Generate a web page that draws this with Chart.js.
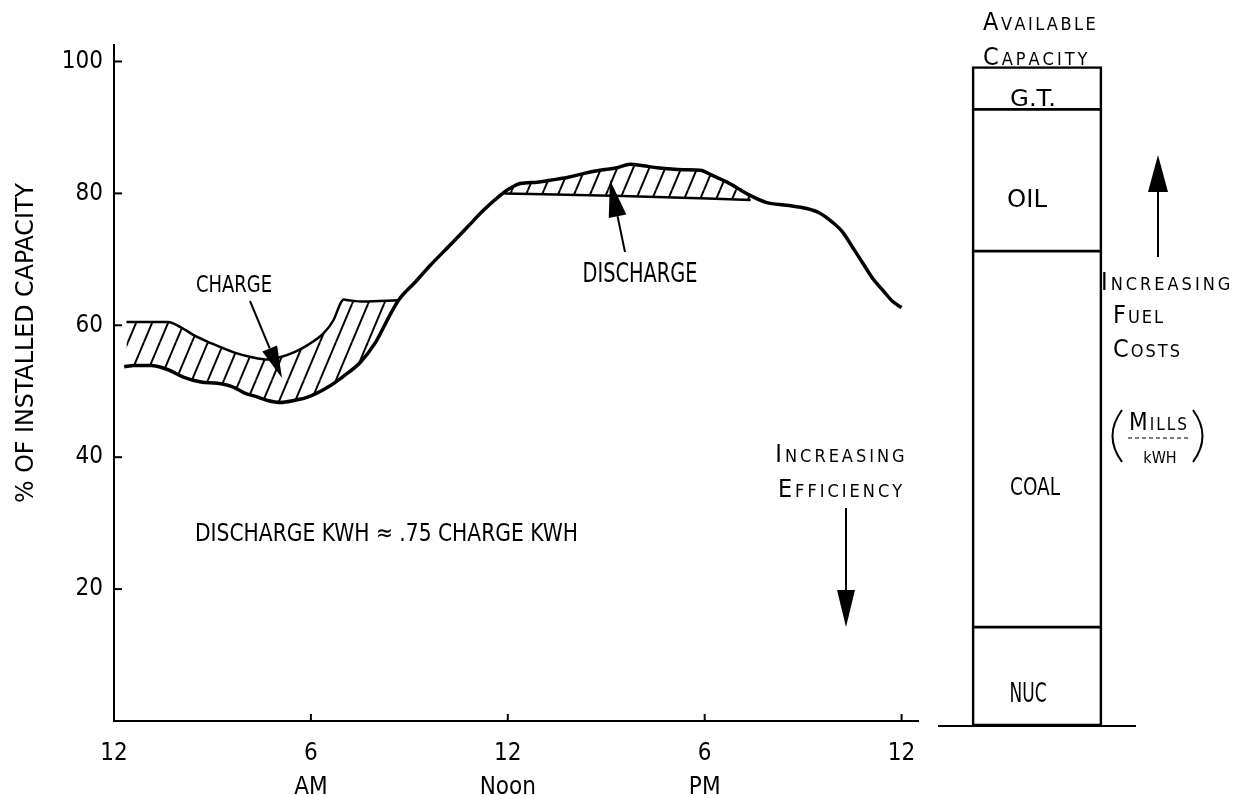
<!DOCTYPE html>
<html>
<head>
<meta charset="utf-8">
<script src="https://cdn.jsdelivr.net/npm/chart.js@4.4.0/dist/chart.umd.min.js"></script>
<style>
  html, body { margin: 0; padding: 0; background: #fff; }
  #wrap { position: relative; width: 1242px; height: 795px; }
  #load { position: absolute; left: 0; top: 0; }
  #cap { position: absolute; left: 935px; top: 0; }
</style>
</head>
<body>
<div id="wrap">
  <canvas id="load" width="935" height="795"></canvas>
  <canvas id="cap" width="307" height="795"></canvas>
</div>
<script>
const FONT = '"Liberation Sans Narrow", "DejaVu Sans Condensed", "Arial Narrow", sans-serif'

// daily load, % of installed capacity against hour of day
const loadHours = [0.31,0.61,1.13,1.63,2.13,2.65,3.16,3.65,3.95,4.38,4.68,5.08,5.48,5.9,6.51,7.0,7.51,7.97,8.36,8.67,
    9.19,9.64,10.25,10.77,11.25,11.77,12.08,12.38,12.9,13.29,13.81,14.3,14.81,15.33,15.73,16.12,16.55,17.34,17.86,18.25,
    18.68,19.07,19.38,19.89,20.5,21.11,21.51,21.9,22.21,22.51,22.82,23.12,23.43,23.73,24.0]
const loadPct = [53.7,53.9,53.9,53.3,52.1,51.4,51.2,50.6,49.8,49.1,48.6,48.3,48.6,49.1,50.6,52.3,54.4,57.4,61.1,63.8,
    66.6,69.1,72.2,74.9,77.4,79.7,80.8,81.5,81.7,82.0,82.4,83.0,83.5,83.9,84.4,84.2,83.9,83.6,83.5,82.7,
    81.7,80.6,79.7,78.6,78.2,77.7,77.0,75.6,74.1,71.8,69.4,67.1,65.3,63.6,62.7]

// load plus storage charging (early morning)
const chargeHours = [0.38,1.64,2.04,2.43,2.95,3.65,4.17,4.68,5.08,5.48,5.9,6.39,6.69,6.9,7.0,7.15,7.6,8.67]
const chargePct = [60.5,60.5,59.7,58.5,57.3,55.9,55.2,54.8,55.2,55.9,57.0,58.8,60.8,63.3,63.9,63.8,63.6,63.8]

// load left for generation while storage discharges (afternoon peak)
const dischargeHours = [11.9, 15.5, 19.4]
const dischargePct = [80.0, 79.6, 79.0]

const xTickHours = [0, 6, 12, 18, 24]
const xTickTop = ['12', '6', '12', '6', '12']
const xTickSub = ['', 'AM', 'Noon', 'PM', '']
const yTickVals = [20, 40, 60, 80, 100]

// available capacity stack, bottom to top
const capLabels = ['NUC', 'COAL', 'OIL', 'G.T.']
const capValues = [15, 57, 21.5, 6.5]

Chart.defaults.font.family = FONT
Chart.defaults.color = '#000'

function toPoints(xs, ys){
    return xs.map((x, i) => ({x: x, y: ys[i]}))
}

function makeHatch(){
    let c = document.createElement('canvas')
    c.width = 16
    c.height = 38
    let g = c.getContext('2d')
    g.strokeStyle = '#000'
    g.lineWidth = 2
    for (const dx of [-16, 0, 16]) {
        g.beginPath()
        g.moveTo(dx, 38)
        g.lineTo(dx + 16, 0)
        g.stroke()
    }
    return g.createPattern(c, 'repeat')
}

function arrow(ctx, x1, y1, x2, y2, len, w, lw){
    let a = Math.atan2(y2 - y1, x2 - x1)
    let bx = x2 - Math.cos(a) * len, by = y2 - Math.sin(a) * len
    ctx.strokeStyle = '#000'
    ctx.fillStyle = '#000'
    ctx.lineWidth = lw || 2
    ctx.beginPath()
    ctx.moveTo(x1, y1)
    ctx.lineTo(bx, by)
    ctx.stroke()
    ctx.beginPath()
    ctx.moveTo(x2, y2)
    ctx.lineTo(bx - Math.sin(a) * w / 2, by + Math.cos(a) * w / 2)
    ctx.lineTo(bx + Math.sin(a) * w / 2, by - Math.cos(a) * w / 2)
    ctx.closePath()
    ctx.fill()
}

// plain lettering, squeezed sideways to the given width when one is set
function text(ctx, s, x, y, size, align, width){
    ctx.font = size + 'px ' + FONT
    let sx = width ? width / ctx.measureText(s).width : 1
    ctx.save()
    ctx.fillStyle = '#000'
    ctx.textAlign = align || 'left'
    ctx.textBaseline = 'alphabetic'
    ctx.translate(x, y)
    ctx.scale(sx, 1)
    ctx.fillText(s, 0, 0)
    ctx.restore()
}

// first letter of each word full size, the rest as small caps
function smallCaps(ctx, s, x, y, big, small, gap, align){
    let parts = [], w = 0
    for (let i = 0; i < s.length; i++) {
        let size = (i === 0 || s[i - 1] === ' ') ? big : small
        ctx.font = size + 'px ' + FONT
        let cw = ctx.measureText(s[i]).width
        parts.push({ch: s[i], size: size, cw: cw})
        w += cw + gap
    }
    w -= gap
    let cx = align === 'center' ? x - w / 2 : x
    ctx.fillStyle = '#000'
    ctx.textAlign = 'left'
    ctx.textBaseline = 'alphabetic'
    for (const p of parts) {
        ctx.font = p.size + 'px ' + FONT
        ctx.fillText(p.ch, cx, y)
        cx += p.cw + gap
    }
}

const loadNotes = {
    id: 'loadNotes',
    afterDraw(chart){
        const ctx = chart.ctx
        const xs = chart.scales.x, ys = chart.scales.y
        const area = chart.chartArea
        ctx.save()
        // short inward tick marks
        ctx.strokeStyle = '#000'
        ctx.lineWidth = 2
        for (const v of yTickVals) {
            let py = ys.getPixelForValue(v)
            ctx.beginPath()
            ctx.moveTo(area.left, py)
            ctx.lineTo(area.left + 8, py)
            ctx.stroke()
        }
        for (const h of xTickHours.slice(1)) {
            let px = xs.getPixelForValue(h)
            ctx.beginPath()
            ctx.moveTo(px, area.bottom)
            ctx.lineTo(px, area.bottom - 7)
            ctx.stroke()
        }

        // axis title, written upwards
        ctx.save()
        ctx.translate(33, 343)
        ctx.rotate(-Math.PI / 2)
        text(ctx, '% OF INSTALLED CAPACITY', 0, 0, 25, 'center', 320)
        ctx.restore()

        text(ctx, 'CHARGE', 234, 292, 23, 'center', 76)
        arrow(ctx, 250, 301, 282, 378, 32, 16, 2)

        text(ctx, 'DISCHARGE', 640, 282, 26, 'center', 115)
        arrow(ctx, 625, 252, 610, 180, 37, 18, 2)

        text(ctx, 'DISCHARGE KWH \u2248 .75 CHARGE KWH', 195, 541, 25, 'left', 383)

        smallCaps(ctx, 'INCREASING', 840, 462, 25, 18, 3, 'center')
        smallCaps(ctx, 'EFFICIENCY', 840, 497, 25, 18, 3, 'center')
        arrow(ctx, 846, 508, 846, 627, 37, 18, 2)
        ctx.restore()
    }
}

const capNotes = {
    id: 'capNotes',
    afterDraw(chart){
        const ctx = chart.ctx
        ctx.save()
        smallCaps(ctx, 'AVAILABLE', 48, 30, 25, 18, 2.5, 'left')
        smallCaps(ctx, 'CAPACITY', 48, 65, 25, 18, 3, 'left')

        text(ctx, 'G.T.', 98, 106, 23, 'center', 46)
        text(ctx, 'OIL', 92, 207, 24, 'center', 40)
        text(ctx, 'COAL', 100, 495, 24, 'center', 50)
        text(ctx, 'NUC', 93, 702, 27, 'center', 37)

        arrow(ctx, 223, 257, 223, 155, 37, 20, 2)
        smallCaps(ctx, 'INCREASING', 166, 290, 25, 18, 3, 'left')
        smallCaps(ctx, 'FUEL', 178, 323, 25, 18, 2, 'left')
        smallCaps(ctx, 'COSTS', 178, 357, 25, 18, 2, 'left')

        // (Mills / kWh)
        ctx.strokeStyle = '#000'
        ctx.lineWidth = 2
        ctx.beginPath()
        ctx.moveTo(187, 410)
        ctx.quadraticCurveTo(168, 436, 187, 462)
        ctx.moveTo(258, 410)
        ctx.quadraticCurveTo(277, 436, 258, 462)
        ctx.stroke()
        smallCaps(ctx, 'MILLS', 223, 430, 24, 17, 2, 'center')
        ctx.lineWidth = 1.2
        ctx.setLineDash([4, 3])
        ctx.beginPath()
        ctx.moveTo(193, 438)
        ctx.lineTo(253, 438)
        ctx.stroke()
        ctx.setLineDash([])
        text(ctx, 'kWH', 225, 463, 16, 'center')
        ctx.restore()
    }
}

function loadChart(id){
    const hatch = makeHatch()
    const line = {borderColor: '#000', pointRadius: 0, cubicInterpolationMode: 'monotone'}

    const data = {
        datasets: [
            Object.assign({label: 'Load', data: toPoints(loadHours, loadPct), borderWidth: 3.5, fill: false}, line),
            Object.assign({label: 'Charge', data: toPoints(chargeHours, chargePct), borderWidth: 2.5,
                fill: {target: 0}, backgroundColor: hatch}, line),
            Object.assign({label: 'Discharge', data: toPoints(dischargeHours, dischargePct), borderWidth: 2.5,
                fill: {target: 0}, backgroundColor: hatch}, line)
        ]
    }

    const config = {
        type: 'line',
        data: data,
        options: {
            responsive: false,
            animation: false,
            layout: {padding: {top: 45, right: 17, left: 0, bottom: 0}},
            plugins: {legend: {display: false}, tooltip: {enabled: false}},
            scales: {
                x: {
                    type: 'linear', min: 0, max: 24.5,
                    afterBuildTicks: s => { s.ticks = xTickHours.map(v => ({value: v})) },
                    afterFit: s => { s.height = 74 },
                    grid: {display: false},
                    border: {color: '#000', width: 2},
                    ticks: {
                        font: {size: 24, lineHeight: 1.4}, padding: 8, maxRotation: 0, autoSkip: false,
                        callback: v => {
                            let i = xTickHours.indexOf(v)
                            if (i < 0) return ''
                            return xTickSub[i] ? [xTickTop[i], xTickSub[i]] : xTickTop[i]
                        }
                    }
                },
                y: {
                    min: 0, max: 102.5,
                    afterBuildTicks: s => { s.ticks = yTickVals.map(v => ({value: v})) },
                    afterFit: s => { s.width = 114 },
                    grid: {display: false},
                    border: {color: '#000', width: 2},
                    ticks: {font: {size: 24}, padding: 3}
                }
            }
        },
        plugins: [loadNotes]
    }
    new Chart(document.getElementById(id), config)
}

function capacityChart(id){
    const last = capLabels.length - 1
    const data = {
        labels: ['AVAILABLE CAPACITY'],
        datasets: capLabels.map((name, i) => ({
            label: name,
            data: [capValues[i]],
            backgroundColor: 'rgba(0,0,0,0)',
            borderColor: '#000',
            // neighbouring segments share one rule
            borderWidth: {left: 2, right: 2, top: i === last ? 2 : 1, bottom: i === 0 ? 2 : 1},
            borderSkipped: false,
            barThickness: 130
        }))
    }

    const config = {
        type: 'bar',
        data: data,
        options: {
            responsive: false,
            animation: false,
            layout: {padding: {top: 50, left: 4, right: 107, bottom: 0}},
            plugins: {legend: {display: false}, tooltip: {enabled: false}},
            scales: {
                x: {
                    stacked: true,
                    afterFit: s => { s.height = 69 },
                    grid: {display: false},
                    ticks: {display: false},
                    border: {color: '#000', width: 2}
                },
                y: {stacked: true, display: false, min: 0, max: 102.5}
            }
        },
        plugins: [capNotes]
    }
    new Chart(document.getElementById(id), config)
}

loadChart('load')
capacityChart('cap')
</script>
</body>
</html>
